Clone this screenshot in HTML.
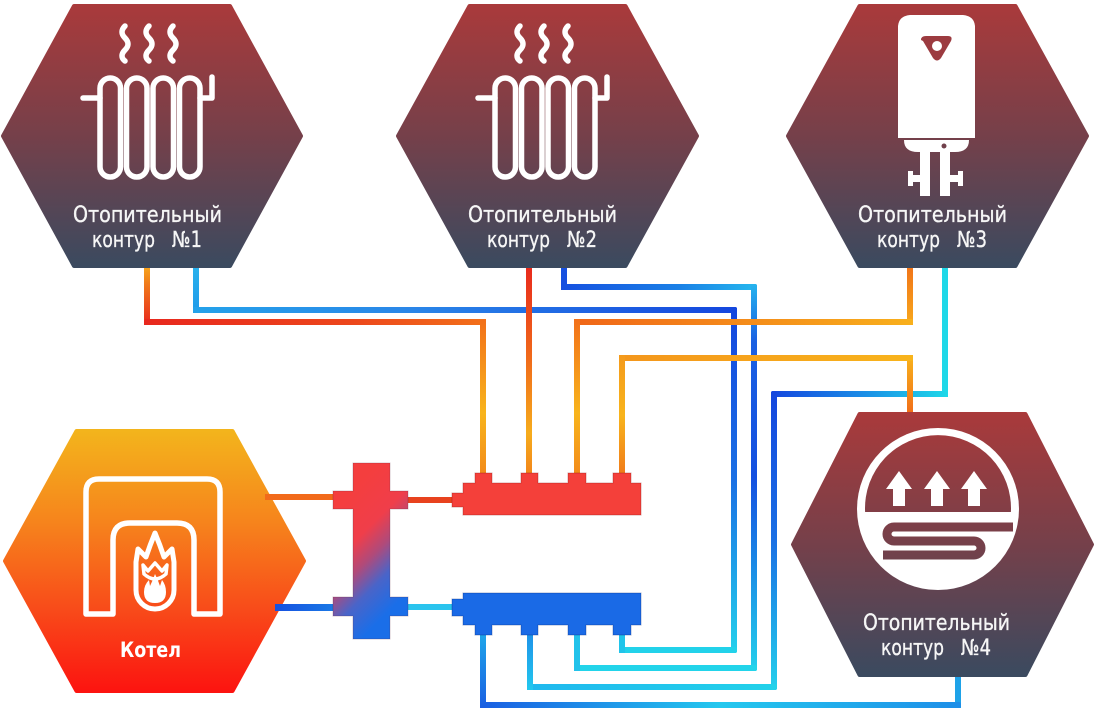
<!DOCTYPE html>
<html><head><meta charset="utf-8"><style>
html,body{margin:0;padding:0;background:#fff;overflow:hidden;}
svg{display:block;}
.t{font-family:"DejaVu Sans","Liberation Sans",sans-serif;font-size:22px;fill:#f6f6f6;stroke:#f6f6f6;stroke-width:0.35;}
.tb{font-family:"DejaVu Sans","Liberation Sans",sans-serif;font-size:21px;font-weight:bold;fill:#fff;}
</style></head><body>
<svg width="1096" height="717" viewBox="0 0 1096 717" xmlns="http://www.w3.org/2000/svg">
<defs>
<linearGradient id="hx" x1="0" y1="0" x2="0" y2="1"><stop offset="0" stop-color="#a93a3b"/><stop offset="0.5" stop-color="#75404a"/><stop offset="1" stop-color="#3b4a5f"/></linearGradient>
<linearGradient id="hx4u" gradientUnits="userSpaceOnUse" x1="0" y1="414" x2="0" y2="675"><stop offset="0" stop-color="#a93a3b"/><stop offset="0.5" stop-color="#75404a"/><stop offset="1" stop-color="#3b4a5f"/></linearGradient>
<linearGradient id="bo" x1="0" y1="0" x2="0" y2="1"><stop offset="0" stop-color="#f3b41c"/><stop offset="0.35" stop-color="#f6841c"/><stop offset="0.68" stop-color="#f84c1a"/><stop offset="1" stop-color="#fc1410"/></linearGradient>
<linearGradient id="sep" gradientUnits="userSpaceOnUse" x1="330" y1="510" x2="410" y2="590"><stop offset="0" stop-color="#f43e3e"/><stop offset="0.35" stop-color="#f03e4a"/><stop offset="0.55" stop-color="#b04a7a"/><stop offset="0.75" stop-color="#4a64c8"/><stop offset="1" stop-color="#1a6ee8"/></linearGradient>
<linearGradient id="b1" x1="0" y1="0" x2="0" y2="1"><stop offset="0" stop-color="#2ab4ec"/><stop offset="1" stop-color="#1f9aea"/></linearGradient>
<linearGradient id="b2" x1="0" y1="0" x2="1" y2="0"><stop offset="0" stop-color="#24a2ea"/><stop offset="0.4" stop-color="#2a86e8"/><stop offset="1" stop-color="#1446de"/></linearGradient>
<linearGradient id="b3" x1="0" y1="0" x2="0" y2="1"><stop offset="0" stop-color="#1446de"/><stop offset="0.5" stop-color="#1a70e4"/><stop offset="1" stop-color="#24d0ec"/></linearGradient>
<linearGradient id="b7" x1="0" y1="0" x2="1" y2="0"><stop offset="0" stop-color="#1650e0"/><stop offset="0.6" stop-color="#1a80e6"/><stop offset="1" stop-color="#26b8ee"/></linearGradient>
<linearGradient id="b8" x1="0" y1="0" x2="0" y2="1"><stop offset="0" stop-color="#26b4ee"/><stop offset="0.15" stop-color="#1a60e2"/><stop offset="0.5" stop-color="#1450e0"/><stop offset="1" stop-color="#24d0ec"/></linearGradient>
<linearGradient id="b12" x1="0" y1="0" x2="1" y2="0"><stop offset="0" stop-color="#1446de"/><stop offset="0.5" stop-color="#1a8ae6"/><stop offset="1" stop-color="#1ed8e8"/></linearGradient>
<linearGradient id="b14" x1="0" y1="0" x2="1" y2="0"><stop offset="0" stop-color="#20b8ee"/><stop offset="1" stop-color="#22d2ea"/></linearGradient>
<linearGradient id="b15" x1="0" y1="0" x2="0" y2="1"><stop offset="0" stop-color="#1e90e8"/><stop offset="1" stop-color="#22c8ee"/></linearGradient>
<linearGradient id="b17" x1="0" y1="0" x2="1" y2="0"><stop offset="0" stop-color="#1a5ee2"/><stop offset="0.5" stop-color="#24c8ee"/><stop offset="1" stop-color="#1e8ee8"/></linearGradient>
<linearGradient id="b18" x1="0" y1="0" x2="0" y2="1"><stop offset="0" stop-color="#1ea8ea"/><stop offset="1" stop-color="#1a5ee2"/></linearGradient>
<linearGradient id="bp" x1="0" y1="0" x2="1" y2="0"><stop offset="0" stop-color="#1650e0"/><stop offset="1" stop-color="#1a7ae6"/></linearGradient>
<linearGradient id="r1" x1="0" y1="0" x2="0" y2="1"><stop offset="0" stop-color="#f8b01c"/><stop offset="0.35" stop-color="#f07a1a"/><stop offset="1" stop-color="#e8281e"/></linearGradient>
<linearGradient id="r2" x1="0" y1="0" x2="1" y2="0"><stop offset="0" stop-color="#e8281e"/><stop offset="0.6" stop-color="#ec461c"/><stop offset="1" stop-color="#f2701a"/></linearGradient>
<linearGradient id="o1" x1="0" y1="0" x2="0" y2="1"><stop offset="0" stop-color="#f2701a"/><stop offset="0.6" stop-color="#f8b41c"/><stop offset="1" stop-color="#f28a1a"/></linearGradient>
<linearGradient id="r4" x1="0" y1="0" x2="0" y2="1"><stop offset="0" stop-color="#e8261c"/><stop offset="0.45" stop-color="#f06a1a"/><stop offset="0.8" stop-color="#f6ac1c"/><stop offset="1" stop-color="#f2841a"/></linearGradient>
<linearGradient id="r5" x1="0" y1="0" x2="0" y2="1"><stop offset="0" stop-color="#f07018"/><stop offset="1" stop-color="#f8a81c"/></linearGradient>
<linearGradient id="r6" x1="0" y1="0" x2="1" y2="0"><stop offset="0" stop-color="#f06618"/><stop offset="1" stop-color="#f8b01c"/></linearGradient>
<linearGradient id="r8" x1="0" y1="0" x2="0" y2="1"><stop offset="0" stop-color="#f8b41c"/><stop offset="1" stop-color="#f06818"/></linearGradient>
<linearGradient id="r9" x1="0" y1="0" x2="1" y2="0"><stop offset="0" stop-color="#f4961c"/><stop offset="1" stop-color="#f8b41c"/></linearGradient>
<linearGradient id="r10" x1="0" y1="0" x2="0" y2="1"><stop offset="0" stop-color="#f49a1c"/><stop offset="0.5" stop-color="#f8b41c"/><stop offset="1" stop-color="#f07a1a"/></linearGradient>
</defs>

<!-- BLUE PIPES -->
<rect x="193" y="262" width="6" height="51" fill="url(#b1)"/>
<rect x="193" y="307" width="544" height="6" fill="url(#b2)" rx="2"/>
<rect x="731" y="307" width="6" height="346" fill="url(#b3)" rx="2"/>
<rect x="619" y="647" width="118" height="6" fill="#22d2ea" rx="2"/>
<rect x="619" y="632" width="6" height="21" fill="#20c4ea"/>

<rect x="561" y="262" width="6" height="28" fill="#1650e0"/>
<rect x="561" y="284" width="196" height="6" fill="url(#b7)" rx="2"/>
<rect x="751" y="284" width="6" height="387" fill="url(#b8)" rx="2"/>
<rect x="574" y="665" width="183" height="6" fill="#22d4ea" rx="2"/>
<rect x="574" y="632" width="6" height="39" fill="#22c2ea"/>

<rect x="942" y="262" width="6" height="135" fill="#1ed8e8"/>
<rect x="771" y="391" width="177" height="6" fill="url(#b12)" rx="2"/>
<rect x="771" y="391" width="6" height="299" fill="url(#b3)" rx="2"/>
<rect x="527" y="684" width="250" height="6" fill="url(#b14)" rx="2"/>
<rect x="527" y="632" width="6" height="58" fill="url(#b15)"/>

<rect x="955" y="670" width="6" height="38" fill="#1ea2e8"/>
<rect x="480" y="702" width="481" height="6" fill="url(#b17)" rx="2"/>
<rect x="480" y="632" width="6" height="76" fill="url(#b18)"/>

<!-- RED / ORANGE PIPES -->
<rect x="144" y="262" width="6" height="63" fill="url(#r1)"/>
<rect x="144" y="319" width="342" height="6" fill="url(#r2)" rx="2"/>
<rect x="480" y="319" width="6" height="157" fill="url(#o1)"/>
<rect x="526" y="262" width="6" height="214" fill="url(#r4)"/>
<rect x="907" y="262" width="6" height="63" fill="url(#r5)"/>
<rect x="574" y="319" width="339" height="6" fill="url(#r6)" rx="2"/>
<rect x="574" y="319" width="6" height="157" fill="url(#o1)"/>
<rect x="907" y="355" width="6" height="63" fill="url(#r8)"/>
<rect x="619" y="355" width="294" height="6" fill="url(#r9)" rx="2"/>
<rect x="619" y="355" width="6" height="121" fill="url(#r10)"/>

<!-- HEXAGONS -->
<polygon points="74,6 230,6 301,136 230,266 74,266 3,136" fill="url(#hx)" stroke="url(#hx)" stroke-width="4" stroke-linejoin="round"/>
<polygon points="469.5,6 625.5,6 697,136 625.5,266 469.5,266 398,136" fill="url(#hx)" stroke="url(#hx)" stroke-width="4" stroke-linejoin="round"/>
<polygon points="859.5,6 1015.5,6 1087,136 1015.5,266 859.5,266 788,136" fill="url(#hx)" stroke="url(#hx)" stroke-width="4" stroke-linejoin="round"/>
<polygon points="859.5,414 1025.5,414 1092,544.5 1025.5,675 859.5,675 793,544.5" fill="url(#hx)" stroke="url(#hx)" stroke-width="4" stroke-linejoin="round"/>
<polygon points="76.5,431 232.5,431 304,561 232.5,691 76.5,691 5,561" fill="url(#bo)" stroke="url(#bo)" stroke-width="4" stroke-linejoin="round"/>

<!-- RADIATOR ICONS -->
<g fill="none" stroke="#fff" stroke-width="5.5" stroke-linecap="round" stroke-linejoin="round">
  <path d="M125,26 c-4,4 -4,8 0,12 s4,8 0,12 s-4,8 0,11"/>
  <path d="M149,26 c-4,4 -4,8 0,12 s4,8 0,12 s-4,8 0,11"/>
  <path d="M173,26 c-4,4 -4,8 0,12 s4,8 0,12 s-4,8 0,11"/>
  <rect x="100" y="78" width="20.5" height="99" rx="10.25"/>
  <rect x="126.5" y="78" width="20.5" height="99" rx="10.25"/>
  <rect x="153" y="78" width="20.5" height="99" rx="10.25"/>
  <rect x="179.5" y="78" width="20.5" height="99" rx="10.25"/>
  <path d="M83,98 H100"/>
  <path d="M200,98 H212 V77"/>
</g>
<g transform="translate(395,0)" fill="none" stroke="#fff" stroke-width="5.5" stroke-linecap="round" stroke-linejoin="round">
  <path d="M125,26 c-4,4 -4,8 0,12 s4,8 0,12 s-4,8 0,11"/>
  <path d="M149,26 c-4,4 -4,8 0,12 s4,8 0,12 s-4,8 0,11"/>
  <path d="M173,26 c-4,4 -4,8 0,12 s4,8 0,12 s-4,8 0,11"/>
  <rect x="100" y="78" width="20.5" height="99" rx="10.25"/>
  <rect x="126.5" y="78" width="20.5" height="99" rx="10.25"/>
  <rect x="153" y="78" width="20.5" height="99" rx="10.25"/>
  <rect x="179.5" y="78" width="20.5" height="99" rx="10.25"/>
  <path d="M83,98 H100"/>
  <path d="M200,98 H212 V77"/>
</g>

<!-- WATER HEATER -->
<g fill="#fff">
  <path d="M898,26 Q899,16 910,15 H963 Q974,16 975,26 V138 H898 Z"/>
  <path d="M904,140 H969 Q969,152 955,152 H918 Q904,152 904,140 Z"/>
  <rect x="920" y="150" width="10" height="46"/>
  <rect x="940" y="150" width="10" height="46"/>
  <rect x="908" y="171" width="5" height="15"/>
  <rect x="911" y="175" width="10" height="7"/>
  <rect x="958" y="171" width="5" height="15"/>
  <rect x="949" y="175" width="11" height="7"/>
</g>
<path d="M921,40 Q921,36 926,36 H948 Q953,36 951,41 L941,58 Q937,63 933,58 L923,41 Z" fill="#9c3b40"/>
<circle cx="937" cy="46" r="5" fill="#fff"/>
<circle cx="944" cy="146" r="2.5" fill="#70404b"/>

<!-- FLOOR HEATING ICON -->
<circle cx="938" cy="509" r="81" fill="#fff"/>
<path d="M865.1,512 A73,73 0 1 1 1010.9,512 Z" fill="url(#hx4u)"/>
<path d="M886,489 L899,471 L912,489 H905 V506 H893 V489 Z" fill="#fff"/>
<path d="M924,489 L937,471 L950,489 H943 V506 H931 V489 Z" fill="#fff"/>
<path d="M961,489 L974,471 L987,489 H980 V506 H968 V489 Z" fill="#fff"/>
<path d="M1013,527 H894 A7,7 0 0 0 894,541 H974 A7,7 0 0 1 974,555 H883" fill="none" stroke="url(#hx4u)" stroke-width="9"/>

<!-- BOILER ICON -->
<g fill="none" stroke="#fff" stroke-width="5.5" stroke-linejoin="round">
  <path d="M86,614 V492 Q86,479 99,479 H207 Q220,479 220,492 V614 H194 V540 Q194,523 177,523 H130 Q113,523 113,540 V614 Z"/>
  <path d="M136,562 L138,549 L146,557 Q150,545 155,533 Q160,545 164,557 L172,549 L174,562 L174,590 A19,19 0 0 1 136,590 Z" stroke-width="5"/>
  <path d="M143,565 L148,571 L155,563 L162,571 L167,565 L166,574 Q155,584 144,574 Z" stroke-width="3.5"/>
</g>
<path fill="#fff" d="M155,603 Q144,603 144,592 Q144,585 149,580 L150,586 Q153,580 155,574 Q158,580 160,586 L162,580 Q166,585 166,592 Q166,603 155,603 Z"/>

<!-- TEXTS -->
<text class="t" x="73" y="222" textLength="149" lengthAdjust="spacingAndGlyphs">Отопительный</text>
<text class="t" x="92" y="247" textLength="63" lengthAdjust="spacingAndGlyphs">контур</text>
<text class="t" x="172" y="247" textLength="30" lengthAdjust="spacingAndGlyphs">№1</text>

<text class="t" x="468" y="222" textLength="149" lengthAdjust="spacingAndGlyphs">Отопительный</text>
<text class="t" x="487" y="247" textLength="63" lengthAdjust="spacingAndGlyphs">контур</text>
<text class="t" x="567" y="247" textLength="30" lengthAdjust="spacingAndGlyphs">№2</text>

<text class="t" x="858" y="222" textLength="149" lengthAdjust="spacingAndGlyphs">Отопительный</text>
<text class="t" x="877" y="247" textLength="63" lengthAdjust="spacingAndGlyphs">контур</text>
<text class="t" x="957" y="247" textLength="30" lengthAdjust="spacingAndGlyphs">№3</text>

<text class="t" x="863" y="630" textLength="147" lengthAdjust="spacingAndGlyphs">Отопительный</text>
<text class="t" x="881" y="655" textLength="63" lengthAdjust="spacingAndGlyphs">контур</text>
<text class="t" x="961" y="655" textLength="30" lengthAdjust="spacingAndGlyphs">№4</text>

<text class="tb" x="120" y="657" textLength="61" lengthAdjust="spacingAndGlyphs">Котел</text>

<!-- BOILER PIPES -->
<rect x="265" y="494" width="70" height="6" fill="#f26a1a"/>
<rect x="275" y="604" width="60" height="7" fill="url(#bp)"/>
<rect x="406" y="497" width="48" height="6" fill="#e8421e"/>
<rect x="406" y="604" width="48" height="6" fill="#2ac4ee"/>

<!-- HYDRAULIC SEPARATOR -->
<path d="M353,463 H390 V491 H408 V509 H390 V597 H408 V616 H390 V639 H353 V616 H333 V597 H353 V509 H333 V491 H353 Z" fill="url(#sep)" stroke="rgba(90,30,60,0.25)" stroke-width="1"/>

<!-- MANIFOLDS -->
<path d="M452,493 H463 V483 H475 V473 H492 V483 H521 V473 H538 V483 H568 V473 H586 V483 H613 V473 H631 V483 H641 V515 H463 V507 H452 Z" fill="#f4403a" stroke="rgba(140,20,20,0.35)" stroke-width="1"/>
<path d="M452,599 H463 V593 H641 V625 H631 V635 H613 V625 H586 V635 H568 V625 H538 V635 H521 V625 H492 V635 H475 V625 H463 V616 H452 Z" fill="#1a6ae6" stroke="rgba(10,40,120,0.35)" stroke-width="1"/>
</svg>
</body></html>
